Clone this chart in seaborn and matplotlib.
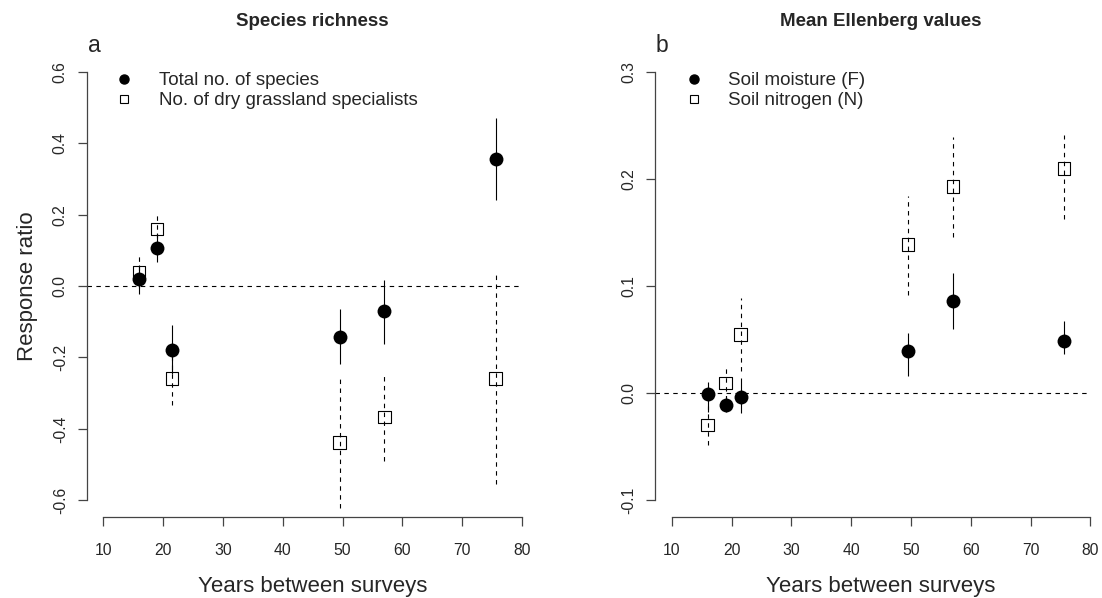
"""
Response ratios of species richness and mean Ellenberg values against
the number of years between surveys (two panels, R base-graphics look).
"""

import matplotlib

matplotlib.use("Agg")
import matplotlib.pyplot as plt
import seaborn as sns
from matplotlib.lines import Line2D

years = [16, 19, 21.5, 49.5, 57, 75.6]

# panel a: species richness (estimate, lower and upper bound of the bar)
total_species = [0.02, 0.108, -0.178, -0.142, -0.07, 0.356]
total_species_lo = [-0.021, 0.067, -0.247, -0.218, -0.162, 0.242]
total_species_hi = [0.06, 0.15, -0.109, -0.063, 0.018, 0.472]
dry_specialists = [0.04, 0.16, -0.259, -0.438, -0.367, -0.259]
dry_specialists_lo = [-0.005, 0.11, -0.334, -0.621, -0.489, -0.554]
dry_specialists_hi = [0.088, 0.209, -0.184, -0.255, -0.253, 0.033]

# panel b: mean Ellenberg values
soil_moisture = [-0.001, -0.011, -0.004, 0.039, 0.086, 0.049]
soil_moisture_lo = [-0.018, -0.018, -0.019, 0.016, 0.06, 0.037]
soil_moisture_hi = [0.01, -0.003, 0.0137, 0.056, 0.112, 0.067]
soil_nitrogen = [-0.030, 0.0097, 0.055, 0.139, 0.193, 0.210]
soil_nitrogen_lo = [-0.048, -0.006, 0.021, 0.092, 0.146, 0.163]
soil_nitrogen_hi = [-0.012, 0.0255, 0.0885, 0.184, 0.239, 0.241]

x_ticks = [10, 20, 30, 40, 50, 60, 70, 80]
a_yticks = [-0.6, -0.4, -0.2, 0.0, 0.2, 0.4, 0.6]
b_yticks = [-0.1, 0.0, 0.1, 0.2, 0.3]

DASH = (0, (4, 4))
AXIS_GREY = "#444444"


def r_limits(ticks):
    """R's default 4 % axis expansion."""
    span = ticks[-1] - ticks[0]
    return ticks[0] - 0.04 * span, ticks[-1] + 0.04 * span


def draw_panel(ax, filled, open_, yticks, labels, title, letter, legend_x):
    est, lo, hi = open_
    ax.vlines(years, lo, hi, colors="black", linestyles=[DASH], linewidth=0.8, zorder=1)
    sns.scatterplot(x=years, y=est, marker="s", s=81, facecolor="none",
                    edgecolor="black", linewidth=0.8, ax=ax, zorder=2)

    est, lo, hi = filled
    ax.vlines(years, lo, hi, colors="black", linestyles="solid", linewidth=0.8, zorder=1)
    sns.scatterplot(x=years, y=est, marker="o", s=100, color="black",
                    edgecolor="black", linewidth=0, ax=ax, zorder=3)

    xlim = r_limits(x_ticks)
    ax.hlines(0, xlim[0], x_ticks[-1], colors="black", linestyles=[DASH],
              linewidth=0.8, zorder=0)

    ax.set_xlim(*xlim)
    ax.set_ylim(*r_limits(yticks))
    ax.set_xticks(x_ticks)
    ax.set_yticks(yticks)
    ax.set_yticklabels([f"{t:.1f}" for t in yticks], rotation=90, va="center")

    sns.despine(ax=ax)
    ax.spines["left"].set_bounds(yticks[0], yticks[-1])
    ax.spines["bottom"].set_bounds(x_ticks[0], x_ticks[-1])
    for side in ("left", "bottom"):
        ax.spines[side].set_color(AXIS_GREY)
        ax.spines[side].set_linewidth(0.9)
    ax.tick_params(axis="both", direction="out", length=6.5, width=0.9,
                   color=AXIS_GREY, labelsize=11.3)
    ax.tick_params(axis="y", pad=7)
    ax.tick_params(axis="x", pad=12)

    ax.set_xlabel("Years between surveys", fontsize=16, labelpad=13)
    ax.set_title(title, fontsize=13.5, fontweight="bold", pad=21)
    ax.text(0.002, 1.007, letter, transform=ax.transAxes, ha="left",
            va="baseline", fontsize=16.5)

    handles = [
        Line2D([], [], linestyle="none", marker="o", markersize=6.5,
               color="black"),
        Line2D([], [], linestyle="none", marker="s", markersize=6,
               markerfacecolor="none", markeredgecolor="black",
               markeredgewidth=0.8),
    ]
    ax.legend(handles, labels, loc="upper left", bbox_to_anchor=(legend_x, 0.963),
              frameon=False, fontsize=13.5, handlelength=0.95, handletextpad=1.35,
              borderpad=0, borderaxespad=0, labelspacing=0.16)


def main():
    sns.set_style("ticks")
    plt.rcParams["font.family"] = ["Liberation Sans", "DejaVu Sans"]

    fig = plt.figure(figsize=(11.02, 5.98), dpi=100)
    W, H = 1102, 598
    bottom = 80.7 / H
    height = 462.4 / H
    ax_a = fig.add_axes([86.6 / W, bottom, 452.2 / W, height])
    ax_b = fig.add_axes([655.0 / W, bottom, 452.2 / W, height])

    draw_panel(ax_a,
               (total_species, total_species_lo, total_species_hi),
               (dry_specialists, dry_specialists_lo, dry_specialists_hi),
               a_yticks,
               ["Total no. of species", "No. of dry grassland specialists"],
               "Species richness", "a", 0.064)
    draw_panel(ax_b,
               (soil_moisture, soil_moisture_lo, soil_moisture_hi),
               (soil_nitrogen, soil_nitrogen_lo, soil_nitrogen_hi),
               b_yticks,
               ["Soil moisture (F)", "Soil nitrogen (N)"],
               "Mean Ellenberg values", "b", 0.067)

    ax_a.set_ylabel("Response ratio", fontsize=16, labelpad=11)

    fig.savefig("out.png", dpi=100)


if __name__ == "__main__":
    main()
